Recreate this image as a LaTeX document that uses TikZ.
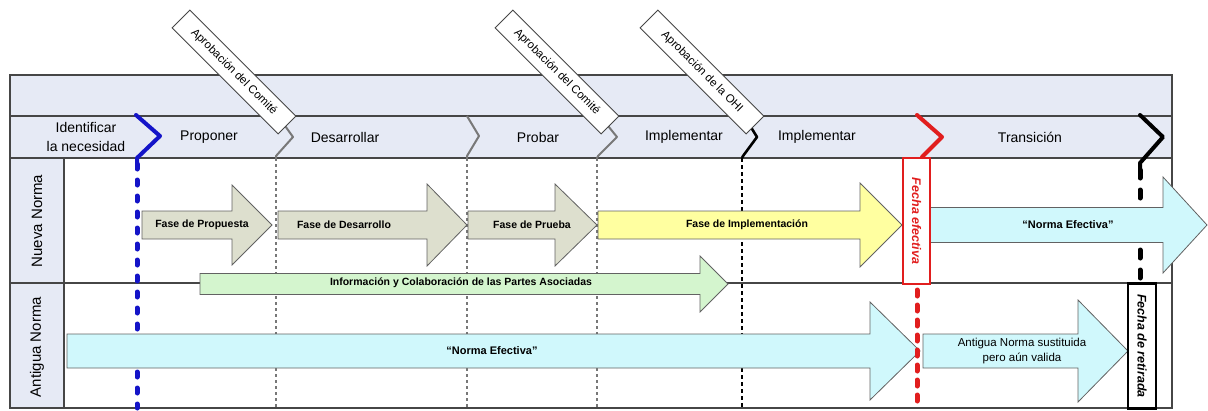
\documentclass[tikz,border=0pt]{standalone}
\usepackage{fontspec}
\setmainfont{Liberation Sans}
\definecolor{hdr}{RGB}{230,234,245}
\definecolor{beige}{RGB}{221,223,206}
\definecolor{yel}{RGB}{255,255,160}
\definecolor{cya}{RGB}{208,248,252}
\definecolor{grn}{RGB}{212,245,206}
\definecolor{frm}{RGB}{70,70,70}
\definecolor{bluel}{RGB}{20,20,200}
\definecolor{redl}{RGB}{225,30,30}
\definecolor{grayl}{RGB}{120,120,120}
\newcommand{\blockarr}[7]{%
  \draw[arrowline, fill=#1] ({#2},{#5-#6}) -- ({#3},{#5-#6}) -- ({#3},{#5-#7}) -- ({#4},{#5}) -- ({#3},{#5+#7}) -- ({#3},{#5+#6}) -- ({#2},{#5+#6}) -- cycle;}
\tikzset{
  frameline/.style={draw=frm, line width=1.3pt},
  arrowline/.style={draw=frm!85, line width=0.8pt, line join=miter},
  phase/.style={font=\fontsize{14}{19}\selectfont, align=center, inner sep=0pt},
  rowlab/.style={font=\fontsize{15}{17}\selectfont, rotate=90, inner sep=0pt},
  alab/.style={font=\bfseries\fontsize{10.5}{12}\selectfont, inner sep=0pt, align=center},
  nlab/.style={font=\bfseries\fontsize{11}{13}\selectfont, inner sep=0pt, align=center},
  slab/.style={font=\fontsize{11.5}{15}\selectfont, inner sep=0pt, align=center},
  apprbox/.style={draw=frm, fill=white, line width=0.9pt, rotate=-45, minimum width=150pt, minimum height=25pt, inner sep=0pt, font=\fontsize{11.5}{13}\selectfont},
  datebox/.style={fill=white, line width=2.6pt, rotate=-90, inner sep=0pt, font=\bfseries\itshape\fontsize{12.5}{14}\selectfont},
  bluedots/.style={draw=bluel, line width=5pt, line cap=round, dash pattern=on 5pt off 11pt},
  graydash/.style={draw=grayl, line width=1.6pt, dash pattern=on 3pt off 3pt},
  blackdash/.style={draw=black, line width=2.2pt, dash pattern=on 3.5pt off 3.5pt},
  reddash/.style={draw=redl, line width=5pt, line cap=round, dash pattern=on 6pt off 9pt},
  bigblackdash/.style={draw=black, line width=5pt, line cap=round, dash pattern=on 8pt off 12pt},
  chevb/.style={draw=bluel, line width=4pt, line join=round, line cap=round},
  chevg/.style={draw=grayl, line width=2pt, line join=round},
  chevk/.style={draw=black, line width=2.6pt, line join=round},
  chevr/.style={draw=redl, line width=4pt, line join=round, line cap=round},
  chevK/.style={draw=black, line width=4pt, line join=round, line cap=round}
}
\begin{document}
\begin{tikzpicture}[x=1pt,y=-1pt]
\useasboundingbox (0,0) rectangle (1208,410);
% backgrounds
\fill[hdr] (10,75) rectangle (1172,158);
\fill[hdr] (10,158) rectangle (64,408);
% frame lines
\draw[frameline] (10,75) rectangle (1172,408);
\draw[frameline] (10,116) -- (1172,116);
\draw[frameline] (10,158) -- (1172,158);
\draw[frameline] (10,283) -- (1172,283);
\draw[frameline] (64,158) -- (64,408);
% vertical stage lines
\coordinate (b1) at (137,164); \coordinate (b2) at (137,408);
\coordinate (g1a) at (276,158); \coordinate (g1b) at (276,408);
\coordinate (g2a) at (467,158); \coordinate (g2b) at (467,408);
\coordinate (g3a) at (597,158); \coordinate (g3b) at (597,408);
\coordinate (k1a) at (742,158); \coordinate (k1b) at (742,408);
\coordinate (k2a) at (1140,170); \coordinate (k2b) at (1140,283);
\draw[bluedots] (b1) -- (b2);
\draw[graydash] (g1a) -- (g1b);
\draw[graydash] (g2a) -- (g2b);
\draw[graydash] (g3a) -- (g3b);
\draw[blackdash] (k1a) -- (k1b);
\draw[bigblackdash] (k2a) -- (k2b);
% block arrows
\blockarr{beige}{142}{232}{272}{225}{14}{40}
\blockarr{beige}{278}{427}{467}{225}{14}{41}
\blockarr{beige}{468}{555}{597}{225}{14}{41}
\blockarr{yel}{598}{860}{902}{225}{14}{42}
\blockarr{cya}{930}{1163}{1207}{225}{17.5}{48}
\blockarr{grn}{200}{700}{728}{284}{10.5}{28}
\blockarr{cya}{67}{870}{920}{351}{17}{49}
\blockarr{cya}{923}{1078}{1128}{351}{17}{51}
% arrow labels
\node[alab] (fp) at (202,225) {Fase de Propuesta};
\node[alab] (fd) at (344,225) {Fase de Desarrollo};
\node[alab] (fb) at (532,225) {Fase de Prueba};
\node[alab] (fi) at (747,225) {Fase de Implementación};
\node[nlab] (ne1) at (1068,225) {“Norma Efectiva”};
\node[alab] (ic) at (461,283) {Información y Colaboración de las Partes Asociadas};
\node[nlab] (ne2) at (492,351) {“Norma Efectiva”};
\node[slab] (as) at (1022,351) {Antigua Norma sustituida\\pero aún valida};
% red line
\coordinate (r1) at (917,290); \coordinate (r2) at (917,408);
\draw[reddash] (r1) -- (r2);
% date boxes
\node[datebox, draw=redl, text=redl, minimum width=126pt, minimum height=27pt] (fe) at (916.5,221) {Fecha efectiva};
\node[datebox, draw=black, text=black, minimum width=125pt, minimum height=28pt] (fr) at (1142,346) {Fecha de retirada};
% chevrons
\draw[chevb] (136,115) -- (160,136) -- (137,158) -- (b1);
\draw[chevg] (278,116) -- (293,137) -- (276,156) -- (g1a);
\draw[chevg] (467,116) -- (479,136) -- (467,156) -- (g2a);
\draw[chevg] (600,116) -- (617,137) -- (598,156) -- (g3a);
\draw[chevk] (744,116) -- (757,137) -- (743,156) -- (k1a);
\draw[chevr] (917,115) -- (942,137) -- (922,157);
\draw[chevK] (1140,115) -- (1163,137) -- (1140,163) -- (k2a);
% phase names
\node[phase] (p0) at (86,137) {Identificar\\la necesidad};
\node[phase] (p1) at (209,137) {Proponer};
\node[phase] (p2) at (345,137) {Desarrollar};
\node[phase] (p3) at (538,137) {Probar};
\node[phase] (p4) at (684,137) {Implementar};
\node[phase] (p5) at (817,137) {Implementar};
\node[phase] (p6) at (1030,137) {Transición};
% row labels
\node[rowlab] (rn) at (37,221) {Nueva Norma};
\node[rowlab] (ra) at (37,347) {Antigua Norma};
% approval boxes
\node[apprbox] (a1) at (234,72) {Aprobación del Comité};
\node[apprbox] (a2) at (557,72) {Aprobación del Comité};
\node[apprbox] (a3) at (702,72) {Aprobación de la OHI};
\end{tikzpicture}
\end{document}
